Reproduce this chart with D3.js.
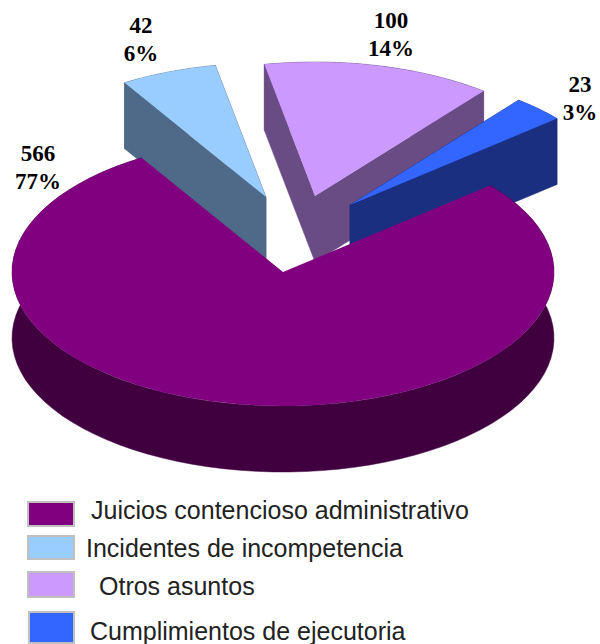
<!DOCTYPE html>
<html>
<head>
<meta charset="utf-8">
<script src="https://cdn.jsdelivr.net/npm/d3@7"></script>
<style>
  html, body { margin: 0; padding: 0; background: #fff; }
  svg { display: block; }
</style>
</head>
<body>
<div id="chart"></div>
<script>
// Data
//////////////////////////////////////////////////////////////////////
const categories = ["Juicios contencioso administrativo", "Incidentes de incompetencia", "Otros asuntos", "Cumplimientos de ejecutoria"];
const values = [566, 42, 100, 23];
const percents = ["77%", "6%", "14%", "3%"];

// Variables
//////////////////////////////////////////////////////////////////////
const width = 600;
const height = 644;
const rx = 271;              // ellipse radius, x
const ry = 134;              // ellipse radius, y
const depth = 66;            // height of the extrusion
const startAngle = 49.8 * Math.PI / 180;
const topColors = ["#800080", "#99ccff", "#cc99ff", "#3366ff"];
const sideColors = ["#400040", "#4f6a88", "#6a4c85", "#1a2f80"];
const apexes = [[283, 272], [266, 197], [315, 196], [350, 205]];
const labelPos = [[38, 161], [141, 33], [391, 28], [580, 92]];
const legendBoxes = [[27, 501, 48, 26], [27, 535, 48, 25], [27, 571, 48, 27], [28, 611, 47, 33]];
const legendText = [[91, 519], [86, 557], [99, 595], [90, 640]];

const color = d3.scaleOrdinal(categories, topColors);
const sideColor = d3.scaleOrdinal(categories, sideColors);

const svg = d3.select("#chart").append("svg")
  .attr("width", width)
  .attr("height", height);

const pie = d3.pie().sort(null)
  .startAngle(startAngle)
  .endAngle(startAngle + 2 * Math.PI);
const slices = pie(values).map((d, i) => ({ ...d, name: categories[i], apex: apexes[i], main: i === 0 }));

// top face: a circular arc squashed into an ellipse
const arc = d3.arc().innerRadius(0).outerRadius(rx);
const line = d3.line();

function project(d, a, dy) {
  return [d.apex[0] + rx * Math.sin(a), d.apex[1] - ry * Math.cos(a) + dy];
}

// side faces of one slice
function faces(d) {
  const angles = d3.range(0, 81).map(k => d.startAngle + (d.endAngle - d.startAngle) * k / 80);
  const upper = angles.map(a => project(d, a, 0));
  const lower = angles.map(a => project(d, a, depth));
  const band = upper.concat(lower.reverse());
  if (d.main) return [band];
  const below = p => [p[0], p[1] + depth];
  const first = upper[0], last = upper[upper.length - 1];
  return [
    band,
    [d.apex, first, below(first), below(d.apex)],
    [d.apex, last, below(last), below(d.apex)]
  ];
}

// exploded slices first, the big one goes on top of them
const order = [slices[1], slices[2], slices[3], slices[0]];
const g = svg.append("g").selectAll("g")
  .data(order)
  .join("g");

g.selectAll("path.side")
  .data(d => faces(d).map(f => ({ f, name: d.name })))
  .join("path")
  .attr("class", "side")
  .attr("d", d => line(d.f) + "Z")
  .attr("fill", d => sideColor(d.name))
  .attr("stroke", d => sideColor(d.name))
  .attr("stroke-width", 0.5);

g.append("path")
  .attr("d", arc)
  .attr("transform", d => `translate(${d.apex[0]},${d.apex[1]}) scale(1,${ry / rx})`)
  .attr("fill", d => color(d.name));

// Value labels
//////////////////////////////////////////////////////////////////////
const label = svg.append("g")
  .attr("font-family", "'Liberation Serif',serif")
  .attr("font-weight", "bold")
  .attr("font-size", 23)
  .attr("text-anchor", "middle")
  .attr("fill", "#000")
  .selectAll("text")
  .data(values)
  .join("text")
  .attr("transform", (d, i) => `translate(${labelPos[i][0]},${labelPos[i][1]})`);

label.append("tspan").attr("x", 0).attr("y", 0).text(d => d);
label.append("tspan").attr("x", 0).attr("y", 28).text((d, i) => percents[i]);

// Legend
//////////////////////////////////////////////////////////////////////
svg.append("g").selectAll("rect")
  .data(categories)
  .join("rect")
  .attr("x", (d, i) => legendBoxes[i][0] + 1)
  .attr("y", (d, i) => legendBoxes[i][1] + 1)
  .attr("width", (d, i) => legendBoxes[i][2] - 2)
  .attr("height", (d, i) => legendBoxes[i][3] - 2)
  .attr("fill", d => color(d))
  .attr("stroke", "#c0c0c0")
  .attr("stroke-width", 2);

svg.append("g")
  .attr("font-family", "'Liberation Sans',sans-serif")
  .attr("font-size", 25)
  .attr("fill", "#222")
  .selectAll("text")
  .data(categories)
  .join("text")
  .attr("x", (d, i) => legendText[i][0])
  .attr("y", (d, i) => legendText[i][1])
  .text(d => d);
</script>
</body>
</html>
